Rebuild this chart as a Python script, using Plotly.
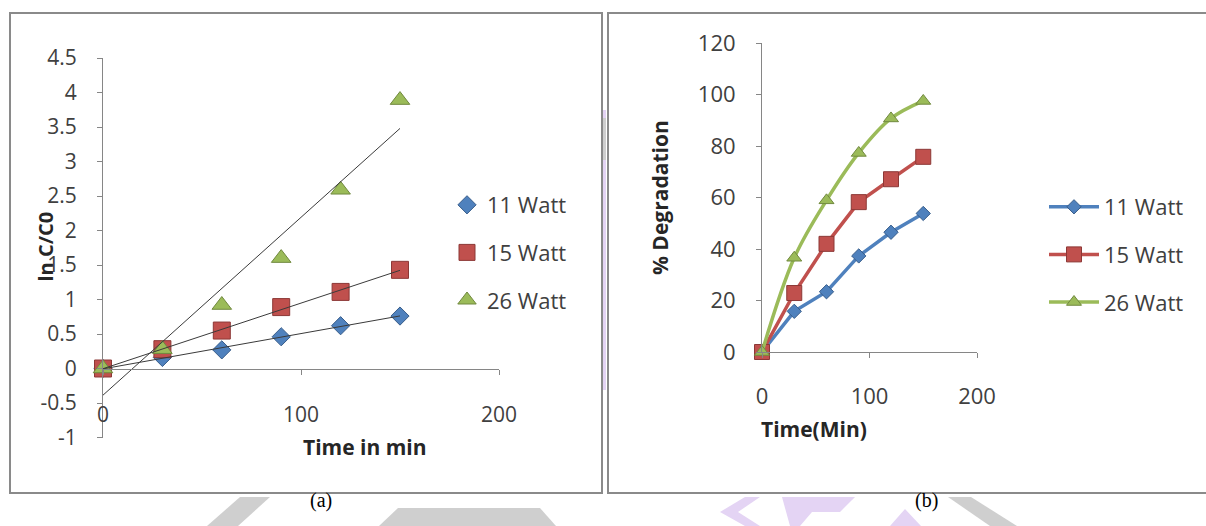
import numpy as np
import plotly.graph_objects as go

W, H = 1206, 526

# ---------------- data ----------------
series = ["11 Watt", "15 Watt", "26 Watt"]

time_a = [0, 30, 60, 90, 120, 150]
ln_11 = [0, 0.16, 0.27, 0.46, 0.62, 0.76]
ln_15 = [0, 0.28, 0.55, 0.89, 1.11, 1.43]
ln_26 = [0, 0.28, 0.92, 1.60, 2.59, 3.89]

time_b = [0, 30, 60, 90, 120, 150]
deg_11 = [0, 15.8, 23.4, 37.3, 46.5, 53.8]
deg_15 = [0, 22.9, 42.0, 58.2, 67.1, 75.8]
deg_26 = [0, 36.6, 58.9, 77.3, 90.7, 97.5]

ya_ticks = [-1, -0.5, 0, 0.5, 1, 1.5, 2, 2.5, 3, 3.5, 4, 4.5]
ya_labels = ["-1", "-0.5", "0", "0.5", "1", "1.5", "2", "2.5", "3", "3.5", "4", "4.5"]
x_ticks = [0, 100, 200]
x_labels = ["0", "100", "200"]
yb_ticks = [0, 20, 40, 60, 80, 100, 120]
yb_labels = ["0", "20", "40", "60", "80", "100", "120"]

# ---------------- style ----------------
FONT = "Open Sans"
TXT = "#404040"
AX = "#868686"
fills = ["#4F81BD", "#C0504D", "#9BBB59"]
edges = ["#385D8A", "#8C3836", "#71893F"]
symbols = ["diamond", "square", "triangle-up"]


def px(x):
    return x / W


def py(y):
    return 1 - y / H


fig = go.Figure()

# ---- panel (a): scatter + linear trendlines ----
ln_sets = [ln_11, ln_15, ln_26]
sizes_a = [14, 17, 17]
for name, vals, f, e, s, sz in zip(series, ln_sets, fills, edges, symbols, sizes_a):
    fig.add_trace(go.Scatter(
        x=time_a, y=vals, mode="markers", name=name, legend="legend",
        legendgroup="a" + name,
        marker=dict(symbol=s, size=sz, color=f, line=dict(color=e, width=1)),
        cliponaxis=False, xaxis="x", yaxis="y"))
for vals in ln_sets:
    k, b = np.polyfit(time_a, vals, 1)
    xs = [min(time_a), max(time_a)]
    fig.add_trace(go.Scatter(
        x=xs, y=[k * v + b for v in xs], mode="lines", showlegend=False,
        line=dict(color="#3a3a3a", width=1), cliponaxis=False,
        xaxis="x", yaxis="y", hoverinfo="skip"))

# ---- panel (b): line charts ----
deg_sets = [deg_11, deg_15, deg_26]
sizes_b = [11, 15, 13]
shapes_line = ["linear", "linear", "spline"]
for name, vals, f, e, s, sz, sh in zip(series, deg_sets, fills, edges, symbols, sizes_b, shapes_line):
    fig.add_trace(go.Scatter(
        x=time_b, y=vals, mode="lines+markers", name=name, legend="legend2",
        legendgroup="b" + name,
        line=dict(color=f, width=3.5, shape=sh),
        marker=dict(symbol=s, size=sz, color=f, line=dict(color=e, width=1)),
        cliponaxis=False, xaxis="x2", yaxis="y2"))


def axis(size, **kw):
    d = dict(showgrid=False, zeroline=False, showline=True, linecolor=AX,
             linewidth=1, ticks="outside", ticklen=5, tickcolor=AX,
             automargin=False,
             tickfont=dict(family=FONT, color=TXT, size=size))
    d.update(kw)
    return d


fig.update_layout(
    width=W, height=H, margin=dict(l=0, r=0, t=0, b=0, pad=0, autoexpand=False),
    paper_bgcolor="white", plot_bgcolor="rgba(0,0,0,0)",
    font=dict(family=FONT, color=TXT),
    xaxis=axis(21, domain=[px(103), px(499)], range=[0, 200], anchor="free",
               position=py(368.5), tickvals=x_ticks, ticktext=x_labels,
               ticklabelstandoff=22),
    yaxis=axis(21, domain=[py(437.5), py(58)], range=[-1, 4.5], anchor="x",
               tickvals=ya_ticks, ticktext=ya_labels, ticklabelstandoff=16),
    xaxis2=axis(22, domain=[px(762), px(977)], range=[0, 200], anchor="y2",
                tickvals=x_ticks, ticktext=x_labels, ticklabelstandoff=20),
    yaxis2=axis(22, domain=[py(352), py(43)], range=[0, 120], anchor="x2",
                tickvals=yb_ticks, ticktext=yb_labels, ticklabelstandoff=16),
    legend=dict(x=px(447), y=py(184), xanchor="left", yanchor="top",
                font=dict(family=FONT, size=22, color=TXT), bgcolor="rgba(0,0,0,0)",
                traceorder="grouped", tracegroupgap=16),
    legend2=dict(x=px(1044), y=py(186), xanchor="left", yanchor="top",
                 font=dict(family=FONT, size=22, color=TXT), bgcolor="rgba(0,0,0,0)",
                 traceorder="grouped", tracegroupgap=16, itemwidth=50),
    showlegend=True,
)

# ---- decorations: watermark fragments and panel frames ----
def poly(pts, color):
    path = "M " + " L ".join(f"{px(x):.5f},{py(y):.5f}" for x, y in pts) + " Z"
    return dict(type="path", path=path, xref="paper", yref="paper",
                fillcolor=color, line=dict(width=0), layer="below")


GRAY_WM = "#cfcfcf"
PURP_WM = "#e4d4f4"
shapes = [
    poly([(207, 526), (240, 497), (270, 497), (238, 526)], GRAY_WM),
    poly([(379, 526), (398, 508), (540, 508), (556, 526)], GRAY_WM),
    poly([(948, 497), (971, 497), (1017, 526), (990, 526)], GRAY_WM),
    poly([(720, 512), (745, 497), (760, 497), (738, 512), (760, 526), (745, 526)], PURP_WM),
    poly([(782, 497), (855, 497), (840, 512), (812, 512), (800, 526), (790, 526)], PURP_WM),
    poly([(890, 526), (905, 509), (921, 526)], PURP_WM),
    poly([(601, 110), (606, 110), (606, 390), (601, 390)], PURP_WM),
    poly([(601, 118), (606, 118), (606, 160), (601, 160)], GRAY_WM),
]
for x0, x1 in [(10, 602), (608, 1215)]:
    shapes.append(dict(type="rect", xref="paper", yref="paper",
                       x0=px(x0), x1=px(x1), y0=py(493), y1=py(13),
                       line=dict(color="#8a8a8a", width=2), fillcolor="rgba(0,0,0,0)",
                       layer="below"))
fig.update_layout(shapes=shapes)

# ---- axis titles and panel captions ----
ann = [
    dict(text="<b>ln C/C0</b>", x=px(30), y=py(247), textangle=-90, size=20),
    dict(text="<b>Time in min</b>", x=px(301), y=py(463), textangle=0, size=21),
    dict(text="<b>% Degradation</b>", x=px(660), y=py(197), textangle=-90, size=21),
    dict(text="<b>Time(Min)</b>", x=px(869), y=py(445), textangle=0, size=21),
]
for a in ann:
    fig.add_annotation(text=a["text"], x=a["x"], y=a["y"], xref="paper", yref="paper",
                       textangle=a["textangle"], showarrow=False,
                       font=dict(family=FONT, size=a["size"], color="#262626"))
for t, x in [("(a)", 308), ("(b)", 940)]:
    fig.add_annotation(text=t, x=px(x), y=py(514), xref="paper", yref="paper",
                       showarrow=False,
                       font=dict(family="Liberation Serif", size=20, color="black"))

fig.write_html(
    "out.html",
    config={"displayModeBar": False},
    post_script="document.body.style.margin='0';document.body.style.overflow='hidden';",
)
